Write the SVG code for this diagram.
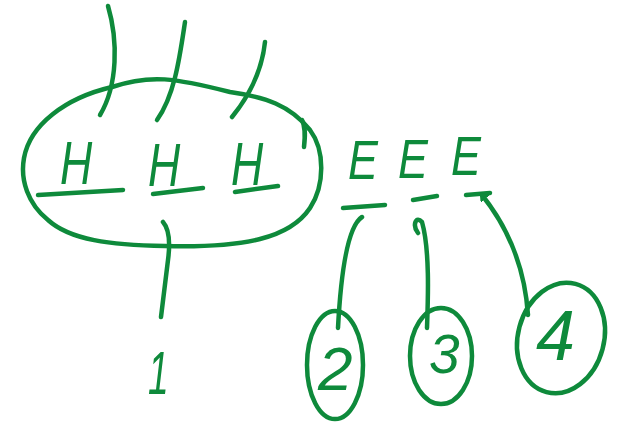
<svg xmlns="http://www.w3.org/2000/svg" width="623" height="425" viewBox="0 0 623 425">
<style>
.s{fill:none;stroke:#0e8a3b;stroke-width:4.5;stroke-linecap:round;stroke-linejoin:round}
.t{fill:#0e8a3b;font-family:"Liberation Sans",Arial,sans-serif;font-style:italic}
</style>
<defs>
<marker id="ah" markerWidth="10" markerHeight="10" refX="5" refY="5" orient="auto" markerUnits="userSpaceOnUse">
<path d="M0,1 L6,5 L0,9" fill="none" stroke="#0e8a3b" stroke-width="3" stroke-linecap="round"/>
</marker>
</defs>
<rect width="623" height="425" fill="#fff"/>
<g id="group-H">
<path class="s" d="M112,87 C150,74 175,78 230,92 C265,97 290,105 310,130 C325,150 325,185 310,208 C290,238 245,248 165,246 C110,245 70,240 48,220 C28,204 20,180 24,158 C30,125 65,98 112,87 Z"/>
<path class="s" d="M302,120 C306,128 305,138 304,147"/>
</g>
<g id="H1"><text class="t" x="60" y="184" font-size="62" transform="translate(60 0) scale(0.72 1) translate(-60 0)">H</text><path class="s" d="M38,195 L123,190"/></g>
<g id="H2"><text class="t" x="148" y="186" font-size="62" transform="translate(148 0) scale(0.72 1) translate(-148 0)">H</text><path class="s" d="M153,194 L203,188"/></g>
<g id="H3"><text class="t" x="231" y="185" font-size="62" transform="translate(231 0) scale(0.72 1) translate(-231 0)">H</text><path class="s" d="M235,192 L278,186"/></g>
<g id="E1"><text class="t" x="348" y="179" font-size="56" transform="translate(348 0) scale(0.8 1) translate(-348 0)">E</text><path class="s" d="M343,208 L385,205"/></g>
<g id="E2"><text class="t" x="398" y="178" font-size="56" transform="translate(398 0) scale(0.8 1) translate(-398 0)">E</text><path class="s" d="M413,200 L437,196"/></g>
<g id="E3"><text class="t" x="451" y="175" font-size="56" transform="translate(451 0) scale(0.8 1) translate(-451 0)">E</text><path class="s" d="M466,195 L490,193"/></g>
<g id="n2"><ellipse class="s" cx="335" cy="365" rx="28" ry="54"/><text class="t" x="318" y="390" font-size="62">2</text></g>
<g id="n3"><ellipse class="s" cx="441" cy="356" rx="31" ry="48"/><text class="t" x="429" y="373" font-size="55">3</text></g>
<g id="n4"><ellipse class="s" cx="561" cy="338" rx="43" ry="56" transform="rotate(15 561 338)"/><text class="t" x="536" y="360" font-size="70">4</text></g>
<g id="n1"><text class="t" x="148" y="394" font-size="62" transform="translate(148 0) scale(0.6 1) translate(-148 0)">1</text></g>
<g id="connectors">
<path class="s" d="M108,6 C118,40 118,85 100,115"/>
<path class="s" d="M185,22 C180,55 175,95 157,120"/>
<path class="s" d="M265,42 C262,70 250,95 232,117"/>
<path class="s" d="M163,222 C170,230 170,245 168,260 L161,317"/>
<path class="s" d="M362,217 C345,228 340,290 338,328"/>
<path class="s" d="M418,233 C412,225 416,215 422,222 C430,250 428,300 427,328"/>
<path class="s" d="M528,315 C525,270 510,230 482,195" marker-end="url(#ah)"/>
</g>
</svg>
